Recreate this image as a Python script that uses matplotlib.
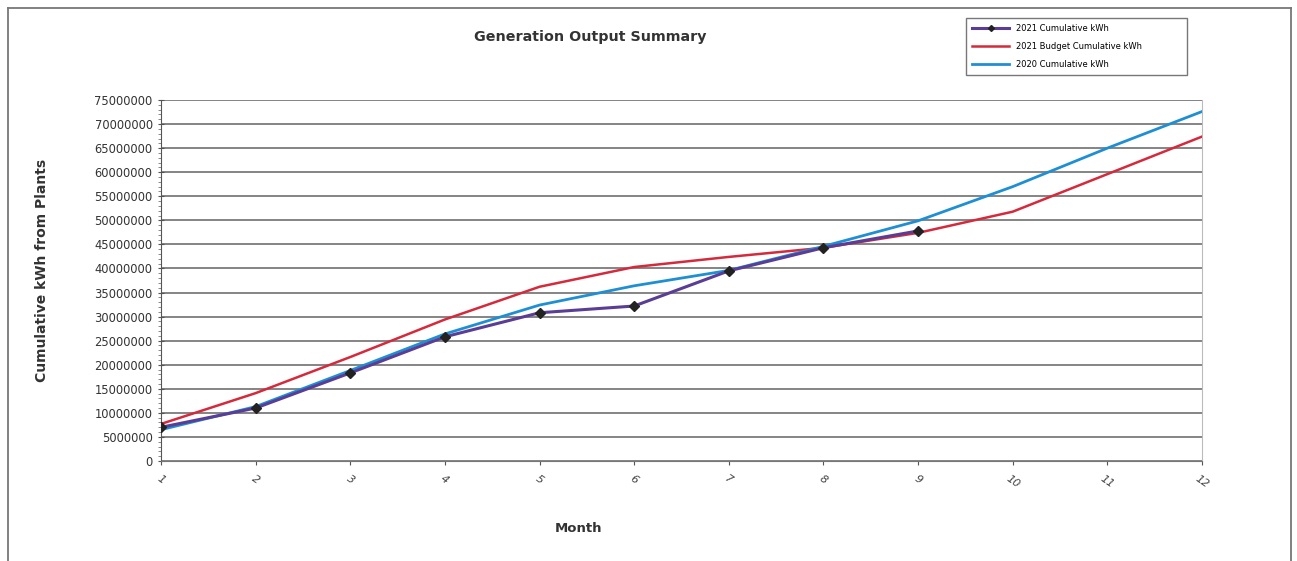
import numpy as np
import matplotlib.pyplot as plt
from matplotlib.lines import Line2D

months = list(range(1, 13))
months_2021 = list(range(1, 10))
cum_2021 = [7.0e6, 11.0e6, 18.3e6, 25.8e6, 30.8e6, 32.2e6, 39.5e6, 44.3e6, 47.8e6]
budget_2021 = [7.7e6, 14.1e6, 21.6e6, 29.4e6, 36.2e6, 40.3e6, 42.4e6, 44.3e6, 47.4e6,
               51.8e6, 59.6e6, 67.4e6]
cum_2020 = [6.5e6, 11.3e6, 18.8e6, 26.4e6, 32.4e6, 36.4e6, 39.6e6, 44.6e6, 49.9e6,
            57.0e6, 65.0e6, 72.6e6]

W, H = 1297, 561
fig = plt.figure(figsize=(W / 100, H / 100), dpi=100)
ax = fig.add_axes([161 / W, 1 - 461 / H, (1202 - 161) / W, (461 - 100) / H])

# outer frame (bottom cut off in the scan)
frame_kw = dict(color="#777777", lw=1.3, transform=fig.transFigure)
fig.add_artist(Line2D([8 / W, 8 / W], [0, 1 - 8 / H], **frame_kw))
fig.add_artist(Line2D([8 / W, 1291 / W], [1 - 8 / H, 1 - 8 / H], **frame_kw))
fig.add_artist(Line2D([1291 / W, 1291 / W], [0, 1 - 8 / H], **frame_kw))

ax.plot(months, budget_2021, color="#d42a3c", lw=1.8, label="2021 Budget Cumulative kWh", zorder=3)
ax.plot(months, cum_2020, color="#1f8fd4", lw=2.0, label="2020 Cumulative kWh", zorder=4)
ax.plot(months_2021, cum_2021, color="#5a3d94", lw=2.2, marker="D", ms=5,
        mfc="#222222", mec="#222222", label="2021 Cumulative kWh", zorder=5)

ax.set_xlim(1, 12)
ax.set_ylim(0, 75e6)
ax.set_yticks(np.arange(0, 75e6 + 1, 5e6))
ax.set_yticklabels([f"{int(v)}" for v in np.arange(0, 75e6 + 1, 5e6)],
                   fontsize=8.3, color="#333333")
ax.set_yticks(np.arange(0, 75e6 + 1, 1e6), minor=True)
ax.set_xticks(months)
ax.set_xticklabels([str(m) for m in months], rotation=-35, fontstyle="italic",
                   fontsize=8, color="#444444")
ax.tick_params(axis="y", which="major", length=5, direction="inout", color="#555555")
ax.tick_params(axis="y", which="minor", length=2, color="#777777")
ax.tick_params(axis="x", length=3, color="#555555", pad=6)

ax.grid(axis="y", color="#6f6f6f", lw=1.2)
ax.set_axisbelow(True)
ax.spines["top"].set_visible(False)
ax.spines["right"].set_color("#bbbbbb")
ax.spines["left"].set_color("#555555")
ax.spines["bottom"].set_color("#777777")

fig.text(590 / W, 1 - 37 / H, "Generation Output Summary", ha="center", va="center",
         fontsize=10.3, fontweight="bold", color="#333333")
fig.text(578 / W, 1 - 529 / H, "Month", ha="center", va="center",
         fontsize=9.5, fontweight="bold", color="#333333")
fig.text(42 / W, 1 - 270 / H, "Cumulative kWh from Plants", ha="center", va="center",
         rotation=90, fontsize=10, fontweight="bold", color="#333333")

h, l = ax.get_legend_handles_labels()
order = [2, 0, 1]
leg = fig.legend([h[i] for i in order], [l[i] for i in order], loc="upper left",
                 bbox_to_anchor=(966 / W, 1 - 18 / H, (1187 - 966) / W, 0.0),
                 mode="expand", fontsize=6, frameon=True,
                 fancybox=False, edgecolor="#555555", handlelength=4.5, markerscale=0.6,
                 labelspacing=1.1, borderpad=0.7, borderaxespad=0)
leg.get_frame().set_linewidth(1.0)

fig.savefig("out.png", dpi=100)
